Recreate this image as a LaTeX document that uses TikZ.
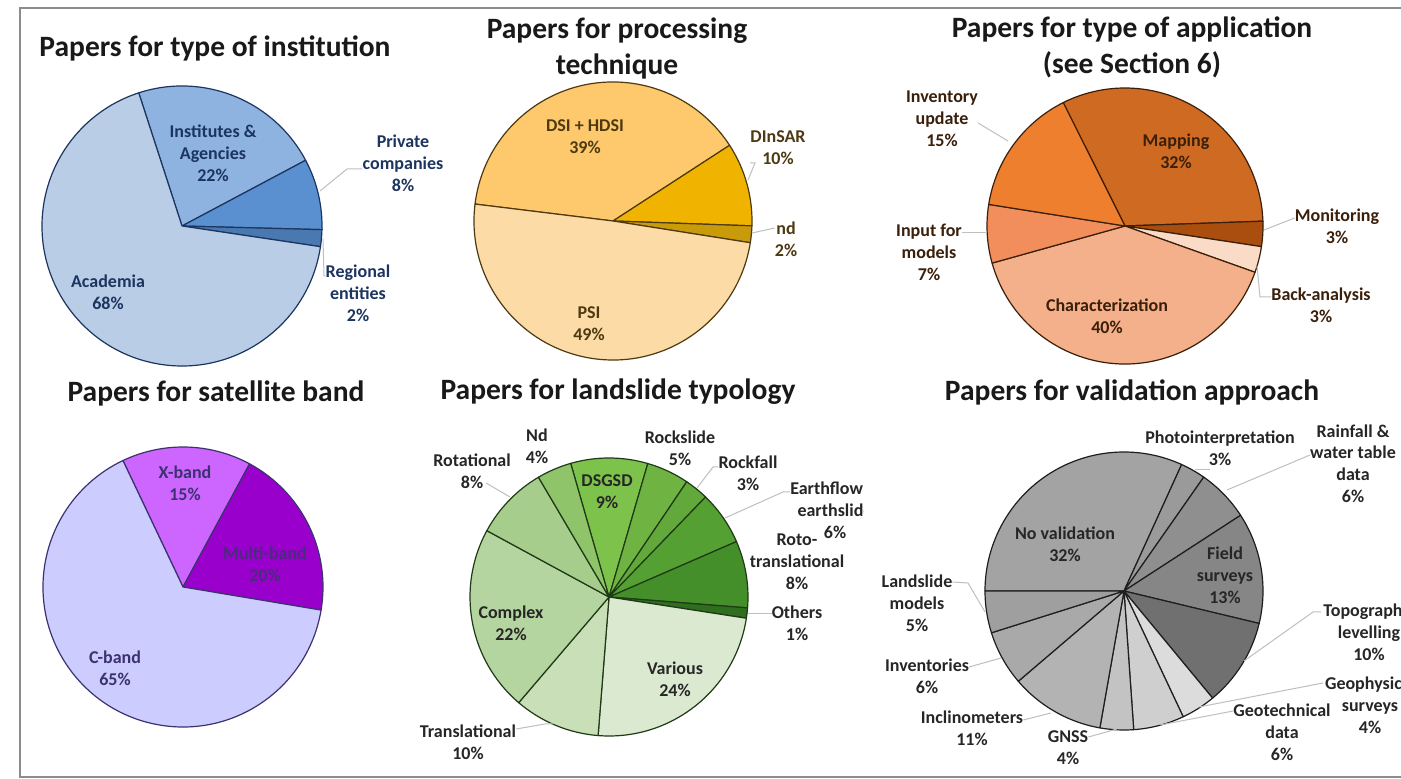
\documentclass[tikz,border=0pt]{standalone}
\usepackage{fontspec}
\setmainfont{Carlito}
\begin{document}
\begin{tikzpicture}[x=1pt,y=1pt,
  ttl/.style={font=\bfseries\fontsize{29.5}{36.5}\selectfont, align=center, inner sep=0pt, text=black!90},
  lbl/.style={font=\bfseries\fontsize{18}{21.8}\selectfont, align=center, inner sep=0pt},
  leader/.style={draw=black!25, line width=1pt},
  pieline/.style={line width=1.2pt, line join=round}]
\definecolor{b1}{HTML}{B9CDE6}\definecolor{b2}{HTML}{8EB3E0}\definecolor{b3}{HTML}{5A8FD0}\definecolor{b4}{HTML}{4A78B0}\definecolor{bo}{HTML}{1C3560}
\definecolor{y1}{HTML}{FEC86C}\definecolor{y2}{HTML}{F0B400}\definecolor{y3}{HTML}{C99A0A}\definecolor{y4}{HTML}{FDDBA7}\definecolor{yo}{HTML}{4D3A12}
\definecolor{o1}{HTML}{CF6A22}\definecolor{o2}{HTML}{A94E0E}\definecolor{o3}{HTML}{FADBC8}\definecolor{o4}{HTML}{F4B08A}\definecolor{o5}{HTML}{F28D5C}\definecolor{o6}{HTML}{EE7F2F}\definecolor{oo}{HTML}{3A1F0A}
\definecolor{v1}{HTML}{CCCCFF}\definecolor{v2}{HTML}{CC66FF}\definecolor{v3}{HTML}{9900CC}\definecolor{vo}{HTML}{3C3270}
\definecolor{g1}{HTML}{7DC24B}\definecolor{g2}{HTML}{6FB442}\definecolor{g3}{HTML}{62A83A}\definecolor{g4}{HTML}{55A033}\definecolor{g5}{HTML}{458F2A}\definecolor{g6}{HTML}{2F6E1E}\definecolor{g7}{HTML}{DBE9D0}\definecolor{g8}{HTML}{C9DFB8}\definecolor{g9}{HTML}{B5D5A0}\definecolor{g10}{HTML}{A6CD8C}\definecolor{g11}{HTML}{8FC46A}\definecolor{go}{HTML}{1F3A16}
\definecolor{k1}{HTML}{A3A3A3}\definecolor{k2}{HTML}{9A9A9A}\definecolor{k3}{HTML}{8F8F8F}\definecolor{k4}{HTML}{868686}\definecolor{k5}{HTML}{707070}\definecolor{k6}{HTML}{DCDCDC}\definecolor{k7}{HTML}{CFCFCF}\definecolor{k8}{HTML}{C3C3C3}\definecolor{k9}{HTML}{B3B3B3}\definecolor{k10}{HTML}{A9A9A9}\definecolor{k11}{HTML}{9F9F9F}\definecolor{ko}{HTML}{1E1E1E}
\definecolor{frame}{HTML}{8C8C8C}
\newcommand{\pieslice}[6]{\filldraw[fill=#6] (#1,#2) -- ++(#4:#3) arc[start angle=#4, end angle=#5, radius=#3] -- cycle;}
\useasboundingbox (0,0) rectangle (1401,779);
\clip (0,0) rectangle (1401,779);
\fill[white] (0,0) rectangle (1401,779);
\draw[frame, line width=1.5pt] (20,2) rectangle (1430,771);

% ---------- titles
\node[ttl] (t1) at (215,731) {Papers for type of institution};
\node[ttl] (t2) at (617,730.5) {Papers for processing\\technique};
\node[ttl] (t3) at (1132,731.5) {Papers for type of application\\(see Section 6)};
\node[ttl] (t4) at (216,386) {Papers for satellite band};
\node[ttl] (t5) at (618,387) {Papers for landslide typology};
\node[ttl] (t6) at (1132,387) {Papers for validation approach};

% ---------- pie 1: institution
\begin{scope}[pieline, draw=bo]
\pieslice{182}{553}{140}{108}{28}{b2}
\pieslice{182}{553}{140}{28}{-1.5}{b3}
\pieslice{182}{553}{140}{-1.5}{-8.5}{b4}
\pieslice{182}{553}{140}{-8.5}{-252}{b1}
\end{scope}
\begin{scope}[lbl, text=bo]
\node[lbl, text=bo] (l1a) at (213,626) {Institutes \&\\Agencies\\22\%};
\node[lbl, text=bo] (l1b) at (403,616) {Private\\companies\\8\%};
\node[lbl, text=bo] (l1c) at (358,486) {Regional\\entities\\2\%};
\node[lbl, text=bo] (l1d) at (108,487) {Academia\\68\%};
\end{scope}
\coordinate (e1b) at (320,588); \coordinate (e1c) at (323,540);
\draw[leader] (e1b) -- (347,610) -- (l1b.west |- 0,610);
\draw[leader] (e1c) -- (324,503) -- (l1c.west |- 0,503);

% ---------- pie 2: processing
\begin{scope}[pieline, draw=yo]
\pieslice{613}{558}{139}{173}{33}{y1}
\pieslice{613}{558}{139}{33}{-2}{y2}
\pieslice{613}{558}{139}{-2}{-9}{y3}
\pieslice{613}{558}{139}{-9}{-187}{y4}
\end{scope}
\node[lbl, text=yo] (l2a) at (585,642.5) {DSI + HDSI\\39\%};
\node[lbl, text=yo] (l2b) at (778,631.5) {DInSAR\\10\%};
\node[lbl, text=yo] (l2c) at (786,540) {nd\\2\%};
\node[lbl, text=yo] (l2d) at (589,455) {PSI\\49\%};
\coordinate (e2b) at (748,599); \coordinate (e2c) at (752,546);
\draw[leader] (e2b) -- (755,616) -- (l2b.west |- 0,616);
\draw[leader] (e2c) -- (l2c.west |- 0,551);

% ---------- pie 3: application
\begin{scope}[pieline, draw=oo]
\pieslice{1125}{553}{138}{116.6}{2}{o1}
\pieslice{1125}{553}{138}{2}{-8.6}{o2}
\pieslice{1125}{553}{138}{-8.6}{-19.6}{o3}
\pieslice{1125}{553}{138}{-19.6}{-164.4}{o4}
\pieslice{1125}{553}{138}{-164.4}{-189}{o5}
\pieslice{1125}{553}{138}{-189}{-243.4}{o6}
\end{scope}
\node[lbl, text=oo] (l3a) at (1176,628) {Mapping\\32\%};
\node[lbl, text=oo] (l3b) at (1337,552.5) {Monitoring\\3\%};
\node[lbl, text=oo] (l3c) at (1321,473.5) {Back-analysis\\3\%};
\node[lbl, text=oo] (l3d) at (1107,462.5) {Characterization\\40\%};
\node[lbl, text=oo] (l3e) at (929,526.5) {Input for\\models\\7\%};
\node[lbl, text=oo] (l3f) at (942,660.5) {Inventory\\update\\15\%};
\coordinate (e3b) at (1264,549); \coordinate (e3c) at (1257,513);
\coordinate (e3e) at (987,546); \coordinate (e3f) at (1008,638);
\draw[leader] (e3b) -- (l3b.west |- 0,561);
\draw[leader] (e3c) -- (1260,482) -- (l3c.west |- 0,482);
\draw[leader] (e3e) -- (l3e.east |- 0,546);
\draw[leader] (e3f) -- (l3f.east |- 0,656);

% ---------- pie 4: satellite band
\begin{scope}[pieline, draw=vo]
\pieslice{183}{192}{140}{115.4}{61.6}{v2}
\pieslice{183}{192}{140}{61.6}{-9.5}{v3}
\pieslice{183}{192}{140}{-9.5}{-244.6}{v1}
\end{scope}
\node[lbl, text=vo] (l4a) at (185,295.5) {X-band\\15\%};
\node[lbl, text=vo!85!v3] (l4b) at (265,215) {Multi-band\\20\%};
\node[lbl, text=vo] (l4c) at (115,111) {C-band\\65\%};

% ---------- pie 5: landslide typology
\begin{scope}[pieline, draw=go]
\pieslice{609}{182}{139}{106}{73.8}{g1}
\pieslice{609}{182}{139}{73.8}{56}{g2}
\pieslice{609}{182}{139}{56}{46}{g3}
\pieslice{609}{182}{139}{46}{23.5}{g4}
\pieslice{609}{182}{139}{23.5}{-4.5}{g5}
\pieslice{609}{182}{139}{-4.5}{-8.8}{g6}
\pieslice{609}{182}{139}{-8.8}{-94.5}{g7}
\pieslice{609}{182}{139}{-94.5}{-130.5}{g8}
\pieslice{609}{182}{139}{-130.5}{-208.5}{g9}
\pieslice{609}{182}{139}{-208.5}{-239.5}{g10}
\pieslice{609}{182}{139}{-239.5}{-254}{g11}
\end{scope}
\node[lbl, text=black!85] (l5a) at (607,287.5) {DSGSD\\9\%};
\node[lbl, text=black!85] (l5b) at (537,332.5) {Nd\\4\%};
\node[lbl, text=black!85] (l5c) at (472,308) {Rotational\\8\%};
\node[lbl, text=black!85] (l5d) at (680,331) {Rockslide\\5\%};
\node[lbl, text=black!85] (l5e) at (748,305.5) {Rockfall\\3\%};
\begin{scope}
\clip (700,230) rectangle (863,310);
\node[lbl, text=black!85] (l5f) at (835,268.5) {Earthflow \&\\earthslide\\6\%};
\end{scope}
\node[lbl, text=black!85] (l5g) at (797,217) {Roto-\\translational\\8\%};
\node[lbl, text=black!85] (l5h) at (797,156) {Others\\1\%};
\node[lbl, text=black!85] (l5i) at (675,100) {Various\\24\%};
\node[lbl, text=black!85] (l5j) at (468,37) {Translational\\10\%};
\node[lbl, text=black!85] (l5k) at (511,155.5) {Complex\\22\%};
\coordinate (e5c) at (510,282); \coordinate (e5e) at (697,291);
\coordinate (e5f) at (725,261); \coordinate (e5h) at (748,165);
\coordinate (e5j) at (553,55);
\draw[leader] (e5c) -- (486,296);
\draw[leader] (e5e) -- (713,312) -- (718,312);
\draw[leader] (e5f) -- (783,287) -- (790,287);
\draw[leader] (e5h) -- (l5h.west |- 0,165);
\draw[leader] (e5j) -- (545,55) -- (l5j.east |- 0,50);

% ---------- pie 6: validation approach
\begin{scope}[pieline, draw=ko]
\pieslice{1124}{188}{139}{180}{65.5}{k1}
\pieslice{1124}{188}{139}{65.5}{55}{k2}
\pieslice{1124}{188}{139}{55}{33}{k3}
\pieslice{1124}{188}{139}{33}{-13.5}{k4}
\pieslice{1124}{188}{139}{-13.5}{-50.4}{k5}
\pieslice{1124}{188}{139}{-50.4}{-64.8}{k6}
\pieslice{1124}{188}{139}{-64.8}{-86}{k7}
\pieslice{1124}{188}{139}{-86}{-100}{k8}
\pieslice{1124}{188}{139}{-100}{-139.5}{k9}
\pieslice{1124}{188}{139}{-139.5}{-162.5}{k10}
\pieslice{1124}{188}{139}{-162.5}{-180}{k11}
\end{scope}
\node[lbl, text=black!85] (l6a) at (1065,234.5) {No validation\\32\%};
\node[lbl, text=black!85] (l6b) at (1220,330.5) {Photointerpretation\\3\%};
\node[lbl, text=black!85] (l6c) at (1353,315.5) {Rainfall \&\\water table\\data\\6\%};
\node[lbl, text=black!85] (l6d) at (1225,204) {Field\\surveys\\13\%};
\node[lbl, text=black!85] (l6e) at (1369,147) {Topographic\\levelling\\10\%};
\node[lbl, text=black!85] (l6f) at (1370,74) {Geophysical\\surveys\\4\%};
\node[lbl, text=black!85] (l6g) at (1282,46.5) {Geotechnical\\data\\6\%};
\node[lbl, text=black!85] (l6h) at (1068,31.5) {GNSS\\4\%};
\node[lbl, text=black!85] (l6i) at (972,50.5) {Inclinometers\\11\%};
\node[lbl, text=black!85] (l6j) at (927,103) {Inventories\\6\%};
\node[lbl, text=black!85] (l6k) at (917,176) {Landslide\\models\\5\%};
\coordinate (e6b) at (1195,309); \coordinate (e6c) at (1227,289);
\coordinate (e6e) at (1244,118); \coordinate (e6f) at (1199,72);
\coordinate (e6g) at (1160,54); \coordinate (e6h) at (1117,50);
\coordinate (e6i) at (1051,66); \coordinate (e6j) at (1001,121);
\coordinate (e6k) at (985,167);
\draw[leader] (e6b) -- (1210,309);
\draw[leader] (e6c) -- (l6c.west |- 0,324);
\draw[leader] (e6e) -- (1313,167) -- (1321,167);
\draw[leader] (e6f) -- (1323,96);
\draw[leader] (e6g) -- (l6g.west |- 0,68);
\draw[leader] (e6h) -- (l6h.east |- 0,42);
\draw[leader] (e6i) -- (l6i.east |- 0,59);
\draw[leader] (e6j) -- (l6j.east |- 0,112);
\draw[leader] (e6k) -- (968,196) -- (l6k.east |- 0,197);
\end{tikzpicture}
\end{document}
